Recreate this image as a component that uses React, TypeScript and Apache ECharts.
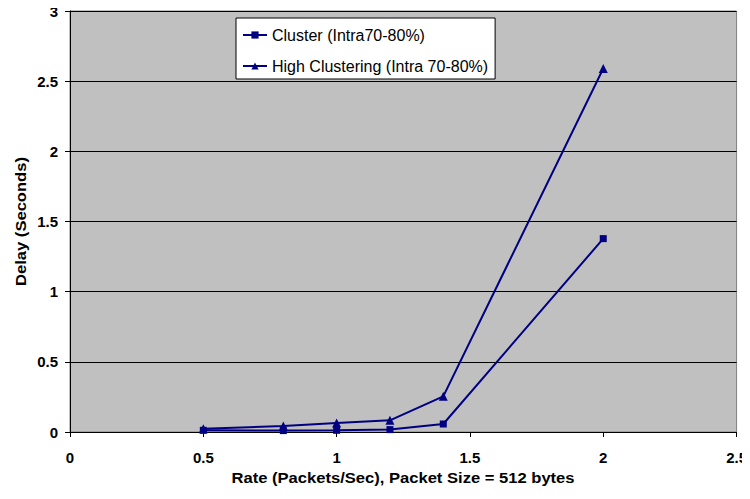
import React, { useEffect, useRef } from "react";
import * as echarts from "echarts";

const rates = [0.5, 0.8, 1.0, 1.2, 1.4, 2.0];
const clusterDelay = [0.012, 0.01, 0.012, 0.017, 0.057, 1.378];
const highClusterDelay = [0.024, 0.043, 0.064, 0.083, 0.254, 2.59];
const seriesNames = ["Cluster (Intra70-80%)", "High Clustering (Intra 70-80%)"];
const xTitle = "Rate (Packets/Sec), Packet Size = 512 bytes";
const yTitle = "Delay (Seconds)";

const NAVY = "#000080";
const FONT = "Arial, 'Liberation Sans', sans-serif";

export default function App() {
  const ref = useRef<HTMLDivElement>(null);

  useEffect(() => {
    if (!ref.current) return;
    const chart = echarts.init(ref.current, null, { renderer: "svg" });
    const pairs = (ys: number[]) => rates.map((x, i) => [x, ys[i]]);
    const tickText = {
      fontFamily: FONT,
      fontWeight: "bold" as const,
      fontSize: 15,
      color: "#000",
    };
    const titleStyle = {
      fontFamily: FONT,
      fontWeight: "bold" as const,
      fontSize: 14.3,
      fill: "#000",
      align: "center" as const,
      verticalAlign: "middle" as const,
    };
    chart.setOption({
      animation: false,
      backgroundColor: "#fff",
      grid: {
        left: 70,
        right: 12,
        top: 11,
        bottom: 67,
        show: true,
        backgroundColor: "#c0c0c0",
        borderColor: "#808080",
        borderWidth: 1,
      },
      legend: {
        left: 236,
        top: 18,
        orient: "vertical",
        itemGap: 15,
        itemWidth: 24,
        itemHeight: 9,
        padding: [9, 7, 5, 6],
        backgroundColor: "#fff",
        borderColor: "#000",
        borderWidth: 1,
        textStyle: {
          fontFamily: FONT,
          fontSize: 16,
          color: "#000",
        },
        data: seriesNames,
      },
      graphic: [
        {
          type: "text",
          x: 403,
          y: 478,
          scaleX: 1.16,
          style: { ...titleStyle, text: xTitle },
        },
        {
          type: "text",
          x: 21,
          y: 221.5,
          rotation: Math.PI / 2,
          scaleX: 1.16,
          style: { ...titleStyle, text: yTitle },
        },
      ],
      xAxis: {
        type: "value",
        min: 0,
        max: 2.5,
        interval: 0.5,
        axisLine: { show: true, lineStyle: { color: "#000", width: 1 } },
        axisTick: { show: true, inside: false, length: 5, lineStyle: { color: "#000" } },
        axisLabel: { ...tickText, margin: 18 },
        splitLine: { show: false },
      },
      yAxis: {
        type: "value",
        min: 0,
        max: 3,
        interval: 0.5,
        axisLine: { show: true, lineStyle: { color: "#000", width: 1 } },
        axisTick: { show: true, length: 5, lineStyle: { color: "#000" } },
        axisLabel: { ...tickText, margin: 12 },
        splitLine: { show: true, lineStyle: { color: "#000", width: 1 } },
      },
      series: [
        {
          name: seriesNames[0],
          type: "line",
          data: pairs(clusterDelay),
          symbol: "rect",
          symbolSize: 7,
          lineStyle: { color: NAVY, width: 2 },
          itemStyle: { color: NAVY },
        },
        {
          name: seriesNames[1],
          type: "line",
          data: pairs(highClusterDelay),
          symbol: "triangle",
          symbolSize: 9,
          lineStyle: { color: NAVY, width: 2 },
          itemStyle: { color: NAVY },
        },
      ],
    });
    return () => chart.dispose();
  }, []);

  return <div ref={ref} style={{ width: 750, height: 499, margin: -8 }} />;
}
